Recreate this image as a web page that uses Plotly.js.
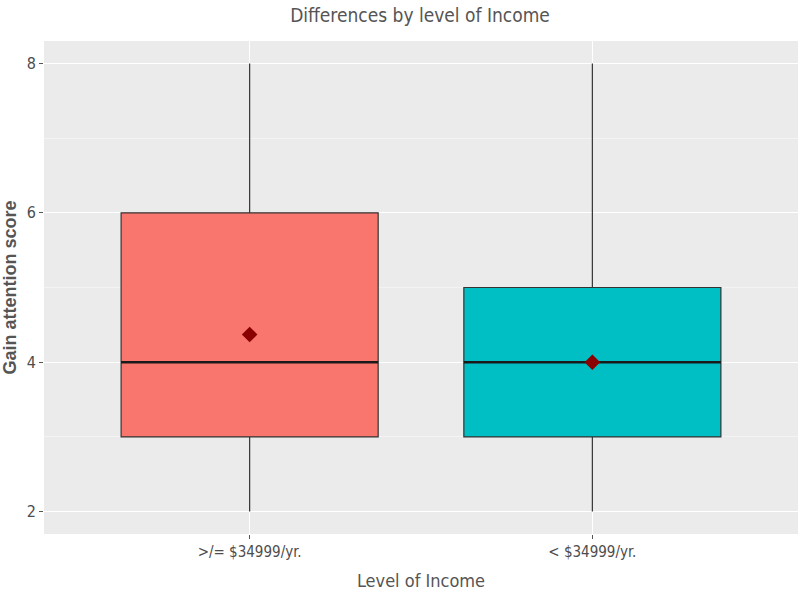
<!DOCTYPE html>
<html>
<head>
<meta charset="utf-8">
<script src="https://cdn.plot.ly/plotly-3.0.1.min.js"></script>
<style>html,body{margin:0;padding:0;background:#fff;}#chart{width:800px;height:597px;}</style>
</head>
<body>
<div id="chart"></div>
<script>
const categories = [">/= $34999/yr.", "< $34999/yr."];
const positions = [1, 2];
const lowerWhisker = [2, 2];
const q1 = [3, 3];
const medians = [4, 4];
const q3 = [6, 5];
const upperWhisker = [8, 8];
const means = [4.37, 4.0];
const colors = ["#F8766D", "#00BFC4"];
const yTicks = [2, 4, 6, 8];

const boxWidth = 0.75;
const condensed = '"Liberation Sans Narrow", "DejaVu Sans Condensed", Roboto, sans-serif';

const traces = [];
categories.forEach((c, i) => {
  traces.push({
    type: 'box',
    x: [positions[i]],
    q1: [q1[i]], median: [medians[i]], q3: [q3[i]],
    lowerfence: [lowerWhisker[i]], upperfence: [upperWhisker[i]],
    width: boxWidth,
    whiskerwidth: 0,
    fillcolor: colors[i],
    line: {color: '#333333', width: 1.2},
    hoverinfo: 'skip',
    showlegend: false
  });
  traces.push({
    type: 'scatter', mode: 'lines',
    x: [positions[i] - boxWidth / 2, positions[i] + boxWidth / 2],
    y: [medians[i], medians[i]],
    line: {color: '#1a1a1a', width: 2.4},
    hoverinfo: 'skip', showlegend: false
  });
});
traces.push({
  type: 'scatter', mode: 'markers',
  x: positions, y: means,
  marker: {symbol: 'diamond', size: 12, color: '#8B0000'},
  hoverinfo: 'skip', showlegend: false
});

const layout = {
  width: 800, height: 597,
  margin: {l: 44, r: 2, t: 41, b: 63},
  paper_bgcolor: '#ffffff',
  plot_bgcolor: '#EBEBEB',
  title: {
    text: 'Differences by level of Income',
    x: 0.525, xanchor: 'center', y: 0.975, yanchor: 'middle',
    font: {family: condensed, size: 19, color: '#555555', weight: 500}
  },
  xaxis: {
    range: [0.4, 2.6],
    tickvals: positions, ticktext: categories,
    showgrid: true, gridcolor: '#ffffff', gridwidth: 1.3,
    zeroline: false, showline: false,
    ticks: 'outside', ticklen: 4, tickcolor: '#555555', tickwidth: 1,
    tickfont: {family: condensed, size: 15, color: '#4d4d4d'},
    title: {text: 'Level of Income', standoff: 14, font: {family: condensed, size: 18, color: '#555555'}}
  },
  yaxis: {
    range: [1.7, 8.3],
    tickvals: yTicks,
    showgrid: true, gridcolor: '#ffffff', gridwidth: 1.3,
    minor: {dtick: 1, tick0: 1, showgrid: true, gridcolor: '#f7f7f7', gridwidth: 0.7, ticks: ''},
    zeroline: false, showline: false,
    ticks: 'outside', ticklen: 4, tickcolor: '#555555', tickwidth: 1,
    tickfont: {family: condensed, size: 16, color: '#4d4d4d'},
    title: {text: '<b>Gain attention score</b>', standoff: 5, font: {family: '"Liberation Sans", Arial, sans-serif', size: 18, color: '#555555'}}
  }
};

Plotly.newPlot('chart', traces, layout, {displayModeBar: false, staticPlot: true});
</script>
</body>
</html>
